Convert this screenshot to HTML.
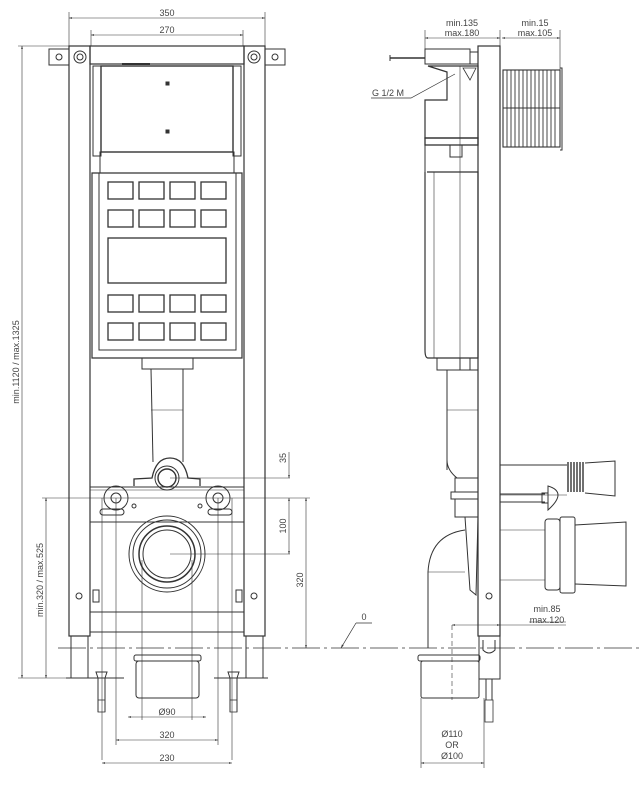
<!DOCTYPE html>
<html><head><meta charset="utf-8"><style>
html,body{margin:0;padding:0;background:#fff;}
svg{display:block}
text{font-family:"Liberation Sans",sans-serif;font-size:9px;fill:#444}
</style></head><body>
<svg width="642" height="788" viewBox="0 0 642 788" xmlns="http://www.w3.org/2000/svg">
<defs>
<marker id="a" viewBox="0 0 10 10" refX="10" refY="5" markerWidth="7" markerHeight="5" orient="auto-start-reverse"><path d="M0,2 L10,5 L0,8z" fill="#333"/></marker>
</defs>
<g fill="none" stroke="#333" stroke-width="1">
<!-- ============ LEFT VIEW ============ -->
<!-- top dims -->
<line x1="69" y1="12" x2="69" y2="46" stroke-width=".6"/><line x1="265" y1="12" x2="265" y2="46" stroke-width=".6"/>
<line x1="69" y1="18" x2="265" y2="18" stroke-width=".6" marker-start="url(#a)" marker-end="url(#a)"/>
<line x1="91" y1="30" x2="91" y2="46" stroke-width=".6"/><line x1="243" y1="30" x2="243" y2="46" stroke-width=".6"/>
<line x1="91" y1="35" x2="243" y2="35" stroke-width=".6" marker-start="url(#a)" marker-end="url(#a)"/>
<!-- uprights -->
<rect x="69" y="46" width="21" height="590" stroke-width="1.2"/>
<rect x="244" y="46" width="21" height="590" stroke-width="1.2"/>
<line x1="71" y1="636" x2="71" y2="678"/><line x1="88" y1="636" x2="88" y2="678"/>
<line x1="246" y1="636" x2="246" y2="678"/><line x1="263" y1="636" x2="263" y2="678"/>
<line x1="66" y1="678" x2="124" y2="678"/><line x1="214" y1="678" x2="268" y2="678"/>
<!-- top bar -->
<rect x="90" y="46" width="154" height="18" stroke-width="1.2"/>
<rect x="49" y="49" width="20" height="16"/><circle cx="59" cy="57" r="3"/>
<rect x="265" y="49" width="20" height="16"/><circle cx="275" cy="57" r="3"/>
<circle cx="80" cy="57" r="6"/><circle cx="80" cy="57" r="3"/>
<circle cx="254" cy="57" r="6"/><circle cx="254" cy="57" r="3"/>
<!-- tank top -->
<rect x="101" y="66" width="132" height="86" stroke-width="1.4"/>
<rect x="93" y="66" width="8" height="90"/><rect x="233" y="66" width="8" height="90"/>
<rect x="100" y="152" width="134" height="21"/>
<rect x="166" y="82" width="3" height="3" fill="#333"/><rect x="166" y="130" width="3" height="3" fill="#333"/>
<line x1="122" y1="64" x2="150" y2="64" stroke-width="2"/>
<!-- panel -->
<path d="M92,173 L242,173 L242,358 L92,358 Z" stroke-width="1.2"/>
<path d="M99,173 L99,350 L236,350 L236,173"/>
<g stroke-width="1.3">
<rect x="108" y="182" width="25" height="17"/><rect x="139" y="182" width="25" height="17"/><rect x="170" y="182" width="25" height="17"/><rect x="201" y="182" width="25" height="17"/>
<rect x="108" y="210" width="25" height="17"/><rect x="139" y="210" width="25" height="17"/><rect x="170" y="210" width="25" height="17"/><rect x="201" y="210" width="25" height="17"/>
<rect x="108" y="238" width="118" height="45"/>
<rect x="108" y="295" width="25" height="17"/><rect x="139" y="295" width="25" height="17"/><rect x="170" y="295" width="25" height="17"/><rect x="201" y="295" width="25" height="17"/>
<rect x="108" y="323" width="25" height="17"/><rect x="139" y="323" width="25" height="17"/><rect x="170" y="323" width="25" height="17"/><rect x="201" y="323" width="25" height="17"/>
</g>
<!-- pipe -->
<rect x="142" y="358" width="51" height="11"/>
<line x1="151" y1="369" x2="153" y2="462"/><line x1="183" y1="369" x2="183" y2="462"/>
<line x1="151" y1="410" x2="183" y2="410" stroke-width=".6"/>
<!-- elbow fitting -->
<path d="M134,486 L134,479 L152,478 Q156,458 170,458 Q184,458 188,478 L200,479 L200,486" stroke-width="1.3"/>
<circle cx="167" cy="478" r="12"/><circle cx="167" cy="478" r="9" stroke-width="1.4"/>
<line x1="170" y1="478" x2="290" y2="478" stroke-width=".6"/>
<!-- crossbar -->
<line x1="90" y1="487" x2="244" y2="487"/><line x1="90" y1="522" x2="244" y2="522"/>
<line x1="90" y1="490" x2="244" y2="490" stroke-width=".5"/>
<circle cx="116" cy="498" r="12"/><circle cx="116" cy="498" r="5"/>
<circle cx="218" cy="498" r="12"/><circle cx="218" cy="498" r="5"/>
<circle cx="134" cy="506" r="2"/><circle cx="200" cy="506" r="2"/>
<rect x="100" y="509" width="24" height="6" rx="3"/><rect x="208" y="509" width="24" height="6" rx="3"/>
<line x1="42" y1="498" x2="310" y2="498" stroke-width=".6"/>
<!-- big ring -->
<circle cx="167" cy="554" r="38"/><circle cx="167" cy="554" r="34"/><circle cx="167" cy="554" r="28" stroke-width="1.5"/><circle cx="167" cy="554" r="24"/>
<line x1="170" y1="554" x2="290" y2="554" stroke-width=".6"/>
<circle cx="79" cy="596" r="3"/><circle cx="254" cy="596" r="3"/>
<rect x="93" y="590" width="6" height="12"/><rect x="236" y="590" width="6" height="12"/>
<!-- bottom bar -->
<line x1="90" y1="612" x2="244" y2="612"/><line x1="90" y1="632" x2="244" y2="632"/>
<!-- vertical thin lines -->
<g stroke-width=".6">
<line x1="102" y1="498" x2="102" y2="760"/><line x1="232" y1="498" x2="232" y2="760"/>
<line x1="116" y1="498" x2="116" y2="745"/><line x1="218" y1="498" x2="218" y2="745"/>
<line x1="142" y1="560" x2="142" y2="720"/><line x1="192" y1="560" x2="192" y2="720"/>
</g>
<!-- bottom pipe -->
<rect x="134" y="655" width="67" height="6" rx="2"/>
<rect x="136" y="661" width="63" height="37" rx="3"/>
<!-- bolts -->
<path d="M98,678 L98,712 M105,678 L105,712 M96,672 L107,672 L105,678 L98,678 Z"/>
<path d="M230,678 L230,712 M237,678 L237,712 M228,672 L239,672 L237,678 L230,678 Z"/>
<rect x="98" y="700" width="7" height="12" stroke-width=".8"/><rect x="230" y="700" width="7" height="12" stroke-width=".8"/>
<!-- bottom dims -->
<line x1="128" y1="717" x2="206" y2="717" stroke-width=".6" marker-start="url(#a)" marker-end="url(#a)"/>
<line x1="116" y1="740" x2="218" y2="740" stroke-width=".6" marker-start="url(#a)" marker-end="url(#a)"/>
<line x1="102" y1="763" x2="232" y2="763" stroke-width=".6" marker-start="url(#a)" marker-end="url(#a)"/>
<!-- left dims -->
<line x1="18" y1="46" x2="69" y2="46" stroke-width=".6"/>
<line x1="18" y1="678" x2="66" y2="678" stroke-width=".6"/>
<line x1="22" y1="46" x2="22" y2="678" stroke-width=".6" marker-start="url(#a)" marker-end="url(#a)"/>
<line x1="46" y1="498" x2="46" y2="678" stroke-width=".6" marker-start="url(#a)" marker-end="url(#a)"/>
<!-- right dims -->
<line x1="289" y1="452" x2="289" y2="478" stroke-width=".6" marker-end="url(#a)"/>
<line x1="289" y1="498" x2="289" y2="554" stroke-width=".6" marker-start="url(#a)" marker-end="url(#a)"/>
<line x1="306" y1="498" x2="306" y2="648" stroke-width=".6" marker-start="url(#a)" marker-end="url(#a)"/>
<!-- floor line -->
<line x1="58" y1="648" x2="642" y2="648" stroke-width=".7" stroke-dasharray="28,4,3,4"/>

<!-- ============ RIGHT VIEW ============ -->
<rect x="478" y="46" width="22" height="590" stroke-width="1.2"/>
<line x1="500" y1="80" x2="500" y2="620" stroke-width=".5"/>
<rect x="479" y="636" width="21" height="43"/>
<path d="M483,640 L483,650 Q489,656 495,650 L495,640"/>
<line x1="486" y1="679" x2="486" y2="700"/><line x1="492" y1="679" x2="492" y2="700"/>
<rect x="485" y="700" width="8" height="22" stroke-width=".8"/>
<circle cx="489" cy="596" r="3"/>
<!-- top box & rod -->
<rect x="425" y="49" width="45" height="15"/>
<rect x="470" y="52" width="8" height="12"/>
<line x1="390" y1="58" x2="425" y2="58" stroke-width="1.4"/>
<line x1="390" y1="55" x2="390" y2="61"/>
<!-- tank upper -->
<path d="M428,66 L478,66 L478,138 L425,138 L425,100 L447,100 L447,72 Z" stroke-width="1.2"/>
<line x1="460" y1="66" x2="460" y2="358" stroke-width=".6"/>
<path d="M463,68 L476,68 L470,80 Z" stroke-width=".8"/>
<rect x="425" y="138" width="53" height="7" stroke-width="1.3"/>
<rect x="450" y="145" width="12" height="12"/>
<line x1="425" y1="145" x2="425" y2="172"/>
<!-- tank lower -->
<path d="M427,172 L478,172 L478,358 L428,358 Q425,358 425,350 L425,172" stroke-width="1.2"/>
<line x1="434" y1="172" x2="434" y2="358" stroke-width=".6"/>
<rect x="437" y="358" width="41" height="12"/>
<rect x="460" y="358" width="10" height="12"/>
<line x1="447" y1="370" x2="447" y2="470"/><line x1="478" y1="370" x2="478" y2="470"/>
<line x1="447" y1="410" x2="478" y2="410" stroke-width=".6"/>
<path d="M447,460 Q447,470 457,478"/>
<rect x="455" y="478" width="23" height="14"/><rect x="451" y="492" width="27" height="7"/><rect x="455" y="499" width="23" height="18"/>
<path d="M465,517 L478,517 L476,595 L470,590 Z"/>
<!-- elbow -->
<path d="M428,648 L428,572 Q430,535 465,530"/>
<line x1="428" y1="572" x2="465" y2="572" stroke-width=".6"/>
<rect x="418" y="655" width="62" height="6" rx="2"/>
<rect x="421" y="661" width="58" height="37" rx="2"/>
<line x1="452" y1="625" x2="452" y2="700" stroke-width=".6" stroke-dasharray="5,3"/>
<line x1="421" y1="698" x2="421" y2="768" stroke-width=".6"/><line x1="484" y1="698" x2="484" y2="768" stroke-width=".6"/>
<line x1="421" y1="763" x2="484" y2="763" stroke-width=".6" marker-start="url(#a)" marker-end="url(#a)"/>
<line x1="452" y1="625" x2="500" y2="625" stroke-width=".6" marker-start="url(#a)" marker-end="url(#a)"/>
<line x1="500" y1="625" x2="566" y2="625" stroke-width=".6"/>
<!-- flush plate ridges -->
<rect x="503" y="70" width="57" height="77" stroke-width="1.1"/>
<path d="M560,68 L562,68 L562,150 L560,150" />
<g stroke-width=".9">
<line x1="507" y1="70" x2="507" y2="147"/><line x1="511" y1="70" x2="511" y2="147"/><line x1="515" y1="70" x2="515" y2="147"/><line x1="519" y1="70" x2="519" y2="147"/><line x1="523" y1="70" x2="523" y2="147"/><line x1="527" y1="70" x2="527" y2="147"/><line x1="531" y1="70" x2="531" y2="147"/><line x1="535" y1="70" x2="535" y2="147"/><line x1="539" y1="70" x2="539" y2="147"/><line x1="543" y1="70" x2="543" y2="147"/><line x1="547" y1="70" x2="547" y2="147"/><line x1="551" y1="70" x2="551" y2="147"/><line x1="555" y1="70" x2="555" y2="147"/>
</g>
<line x1="503" y1="108" x2="560" y2="108"/>
<!-- connectors -->
<line x1="500" y1="465" x2="567" y2="465"/><line x1="500" y1="495" x2="567" y2="495" stroke-width=".6"/>
<g stroke-width="1.4"><line x1="568" y1="462" x2="568" y2="492"/><line x1="571" y1="462" x2="571" y2="492"/><line x1="574" y1="462" x2="574" y2="492"/><line x1="577" y1="462" x2="577" y2="492"/><line x1="580" y1="462" x2="580" y2="492"/><line x1="583" y1="462" x2="583" y2="492"/></g>
<path d="M585,463 L615,461 L615,496 L585,493"/>
<line x1="500" y1="494" x2="545" y2="494"/><line x1="500" y1="502" x2="545" y2="502"/>
<rect x="542" y="493" width="6" height="10"/>
<path d="M548,486 Q568,492 548,510 Z"/>
<line x1="500" y1="530" x2="545" y2="530" stroke-width=".6"/><line x1="500" y1="580" x2="545" y2="580" stroke-width=".6"/>
<rect x="545" y="519" width="15" height="71" rx="3"/>
<rect x="560" y="517" width="15" height="76" rx="2"/>
<path d="M575,525 L626,522 L626,586 L575,584"/>
<!-- top right dims -->
<line x1="425" y1="30" x2="425" y2="49" stroke-width=".6"/><line x1="500" y1="30" x2="500" y2="46" stroke-width=".6"/><line x1="560" y1="30" x2="560" y2="70" stroke-width=".6"/>
<line x1="425" y1="38" x2="500" y2="38" stroke-width=".6" marker-start="url(#a)" marker-end="url(#a)"/>
<line x1="502" y1="38" x2="560" y2="38" stroke-width=".6" marker-start="url(#a)" marker-end="url(#a)"/>
<!-- G 1/2 leader -->
<path d="M371,98 L411,98 L455,74" stroke-width=".7"/>
<!-- 0 symbol -->
<path d="M356,623 L372,623 M356,623 L341,648" stroke-width=".7" marker-end="url(#a)"/>
<line x1="529" y1="622" x2="566" y2="622" stroke-width=".5"/>
</g>
<!-- TEXT -->
<text x="167" y="16" text-anchor="middle">350</text>
<text x="167" y="33" text-anchor="middle">270</text>
<text x="167" y="715" text-anchor="middle">Ø90</text>
<text x="167" y="738" text-anchor="middle">320</text>
<text x="167" y="761" text-anchor="middle">230</text>
<text transform="translate(19,362) rotate(-90)" text-anchor="middle">min.1120 / max.1325</text>
<text transform="translate(43,580) rotate(-90)" text-anchor="middle">min.320 / max.525</text>
<text transform="translate(286,458) rotate(-90)" text-anchor="middle">35</text>
<text transform="translate(286,526) rotate(-90)" text-anchor="middle">100</text>
<text transform="translate(303,580) rotate(-90)" text-anchor="middle">320</text>
<text x="462" y="26" text-anchor="middle">min.135</text>
<text x="462" y="36" text-anchor="middle">max.180</text>
<text x="535" y="26" text-anchor="middle">min.15</text>
<text x="535" y="36" text-anchor="middle">max.105</text>
<text x="372" y="96">G 1/2 M</text>
<text x="364" y="620" text-anchor="middle">0</text>
<text x="547" y="612" text-anchor="middle">min.85</text>
<text x="547" y="623" text-anchor="middle">max.120</text>
<text x="452" y="737" text-anchor="middle">Ø110</text>
<text x="452" y="748" text-anchor="middle">OR</text>
<text x="452" y="759" text-anchor="middle">Ø100</text>
</svg>
</body></html>
